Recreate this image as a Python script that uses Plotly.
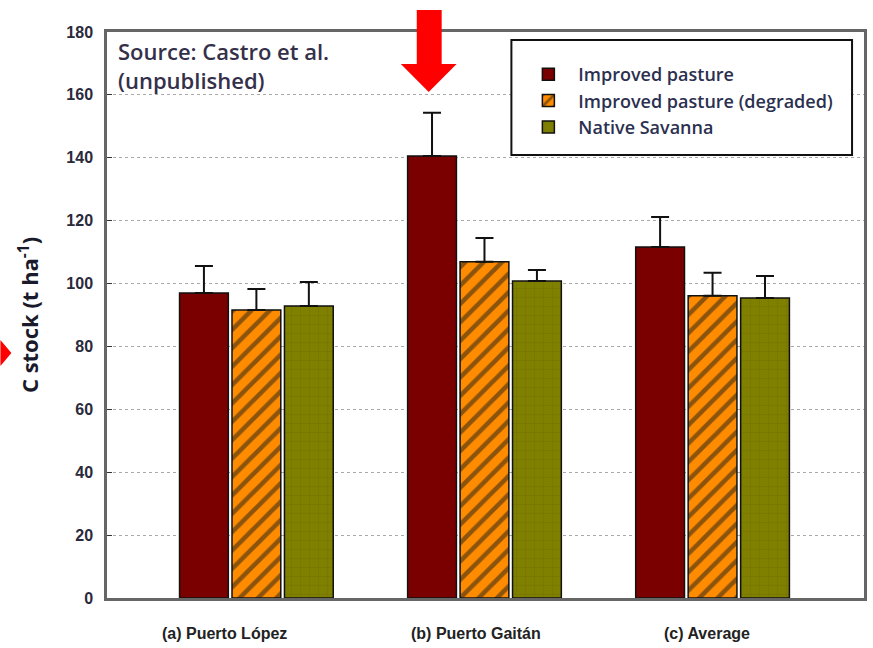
import plotly.graph_objects as go

# ---- data ----
sites = ["(a) Puerto López", "(b) Puerto Gaitán", "(c) Average"]
series_names = ["Improved pasture", "Improved pasture (degraded)", "Native Savanna"]
improved = [97.0, 140.6, 111.6]
improved_err = [8.6, 13.7, 9.6]
degraded = [91.6, 106.9, 96.1]
degraded_err = [6.7, 7.6, 7.3]
savanna = [92.9, 100.8, 95.4]
savanna_err = [7.6, 3.5, 7.0]
y_ticks = [0, 20, 40, 60, 80, 100, 120, 140, 160, 180]
label_shift = [-32, -8, -6]

W, H = 873, 648
L, R, T, B = 107, 867, 32, 598


def px(x, y):
    return (x - L) / (R - L), (B - y) / (B - T)


fig = go.Figure()

styles = [
    dict(color="#7a0000", pattern=dict(shape="")),
    dict(color="#ff8c00", pattern=dict(shape="/", fgcolor="#1a1a1a", size=13, solidity=0.35)),
    dict(color="#808000", pattern=dict(shape="+", fgcolor="#5c5c00", size=9, solidity=0.08)),
]
for name, vals, errs, st in zip(series_names, [improved, degraded, savanna],
                                [improved_err, degraded_err, savanna_err], styles):
    fig.add_trace(go.Bar(
        x=sites, y=vals, name=name,
        marker=dict(color=st["color"], pattern=st["pattern"],
                    line=dict(color="#111111", width=1.5)),
        error_y=dict(type="data", array=errs, arrayminus=[0] * len(errs),
                     symmetric=False, color="#111111", thickness=2, width=9),
    ))

shapes = []
# legend box
x0, y0 = px(513, 40)
x1, y1 = px(855, 155)
shapes.append(dict(type="rect", xref="paper", yref="paper", x0=x0, y0=y1, x1=x1, y1=y0,
                   line=dict(color="#111111", width=2), fillcolor="white", layer="above"))


def path(points):
    s = ""
    for i, (a, b) in enumerate(points):
        u, v = px(a, b)
        s += ("M" if i == 0 else "L") + f"{u:.5f},{v:.5f} "
    return s + "Z"


arrow_down = [(418, 10), (443, 10), (443, 64), (458, 64), (430, 92), (402, 64), (418, 64)]
shapes.append(dict(type="path", xref="paper", yref="paper", path=path(arrow_down),
                   fillcolor="#ff0000", line=dict(width=0), layer="above"))
arrow_right = [(0, 340), (11, 353), (0, 366)]
shapes.append(dict(type="path", xref="paper", yref="paper", path=path(arrow_right),
                   fillcolor="#ff0000", line=dict(width=0), layer="above"))

annotations = []
for txt, yy in [("Source: Castro et al.", 51), ("(unpublished)", 80)]:
    ax, ay = px(116, yy)
    annotations.append(dict(text=txt, xref="paper", yref="paper", x=ax, y=ay,
                            xanchor="left", yanchor="middle", showarrow=False,
                            font=dict(family="Open Sans", size=22, color="#35304a",
                                      weight=600)))
for site, sh in zip(sites, label_shift):
    annotations.append(dict(text=site, xref="x", yref="paper", x=site, y=0,
                            xanchor="center", yanchor="middle", yshift=-35, xshift=sh,
                            showarrow=False,
                            font=dict(family="Liberation Sans Narrow, Arial Narrow, Arial",
                                      size=16, color="#222222", weight="bold")))

lx, ly = px(520, 56)
fig.update_layout(
    width=W, height=H,
    margin=dict(l=L, r=W - R, t=T, b=H - B),
    paper_bgcolor="white", plot_bgcolor="white",
    barmode="group", bargap=0.31, bargroupgap=0.07,
    showlegend=True,
    legend=dict(x=lx, y=ly, xanchor="left", yanchor="top",
                bgcolor="rgba(0,0,0,0)", borderwidth=0, itemwidth=50,
                font=dict(family="Open Sans", size=18, color="#2b3050", weight=600),
                tracegroupgap=0),
    shapes=shapes, annotations=annotations,
    xaxis=dict(type="category", range=[-0.655, 2.664], showgrid=False,
               showline=True, mirror=True, linecolor="#666666", linewidth=2.5,
               ticks="", showticklabels=False),
    yaxis=dict(range=[0, 180], tickvals=y_ticks, showgrid=True,
               gridcolor="#aaaaaa", griddash="dot", gridwidth=1,
               showline=True, mirror=True, linecolor="#666666", linewidth=2.5,
               ticks="inside", ticklen=5, tickcolor="#333333", ticklabelstandoff=8,
               tickfont=dict(family="Liberation Sans", size=16,
                             color="#2a2a3a", weight="bold"),
               title=dict(text="C stock (t ha<sup>-1</sup>)", standoff=22,
                          font=dict(family="Open Sans", size=22, color="#1a1a2a",
                                    weight="bold"))),
)

fig.write_html("out.html", config={"displayModeBar": False},
               post_script="document.body.style.margin='0';document.body.style.overflow='hidden';")
